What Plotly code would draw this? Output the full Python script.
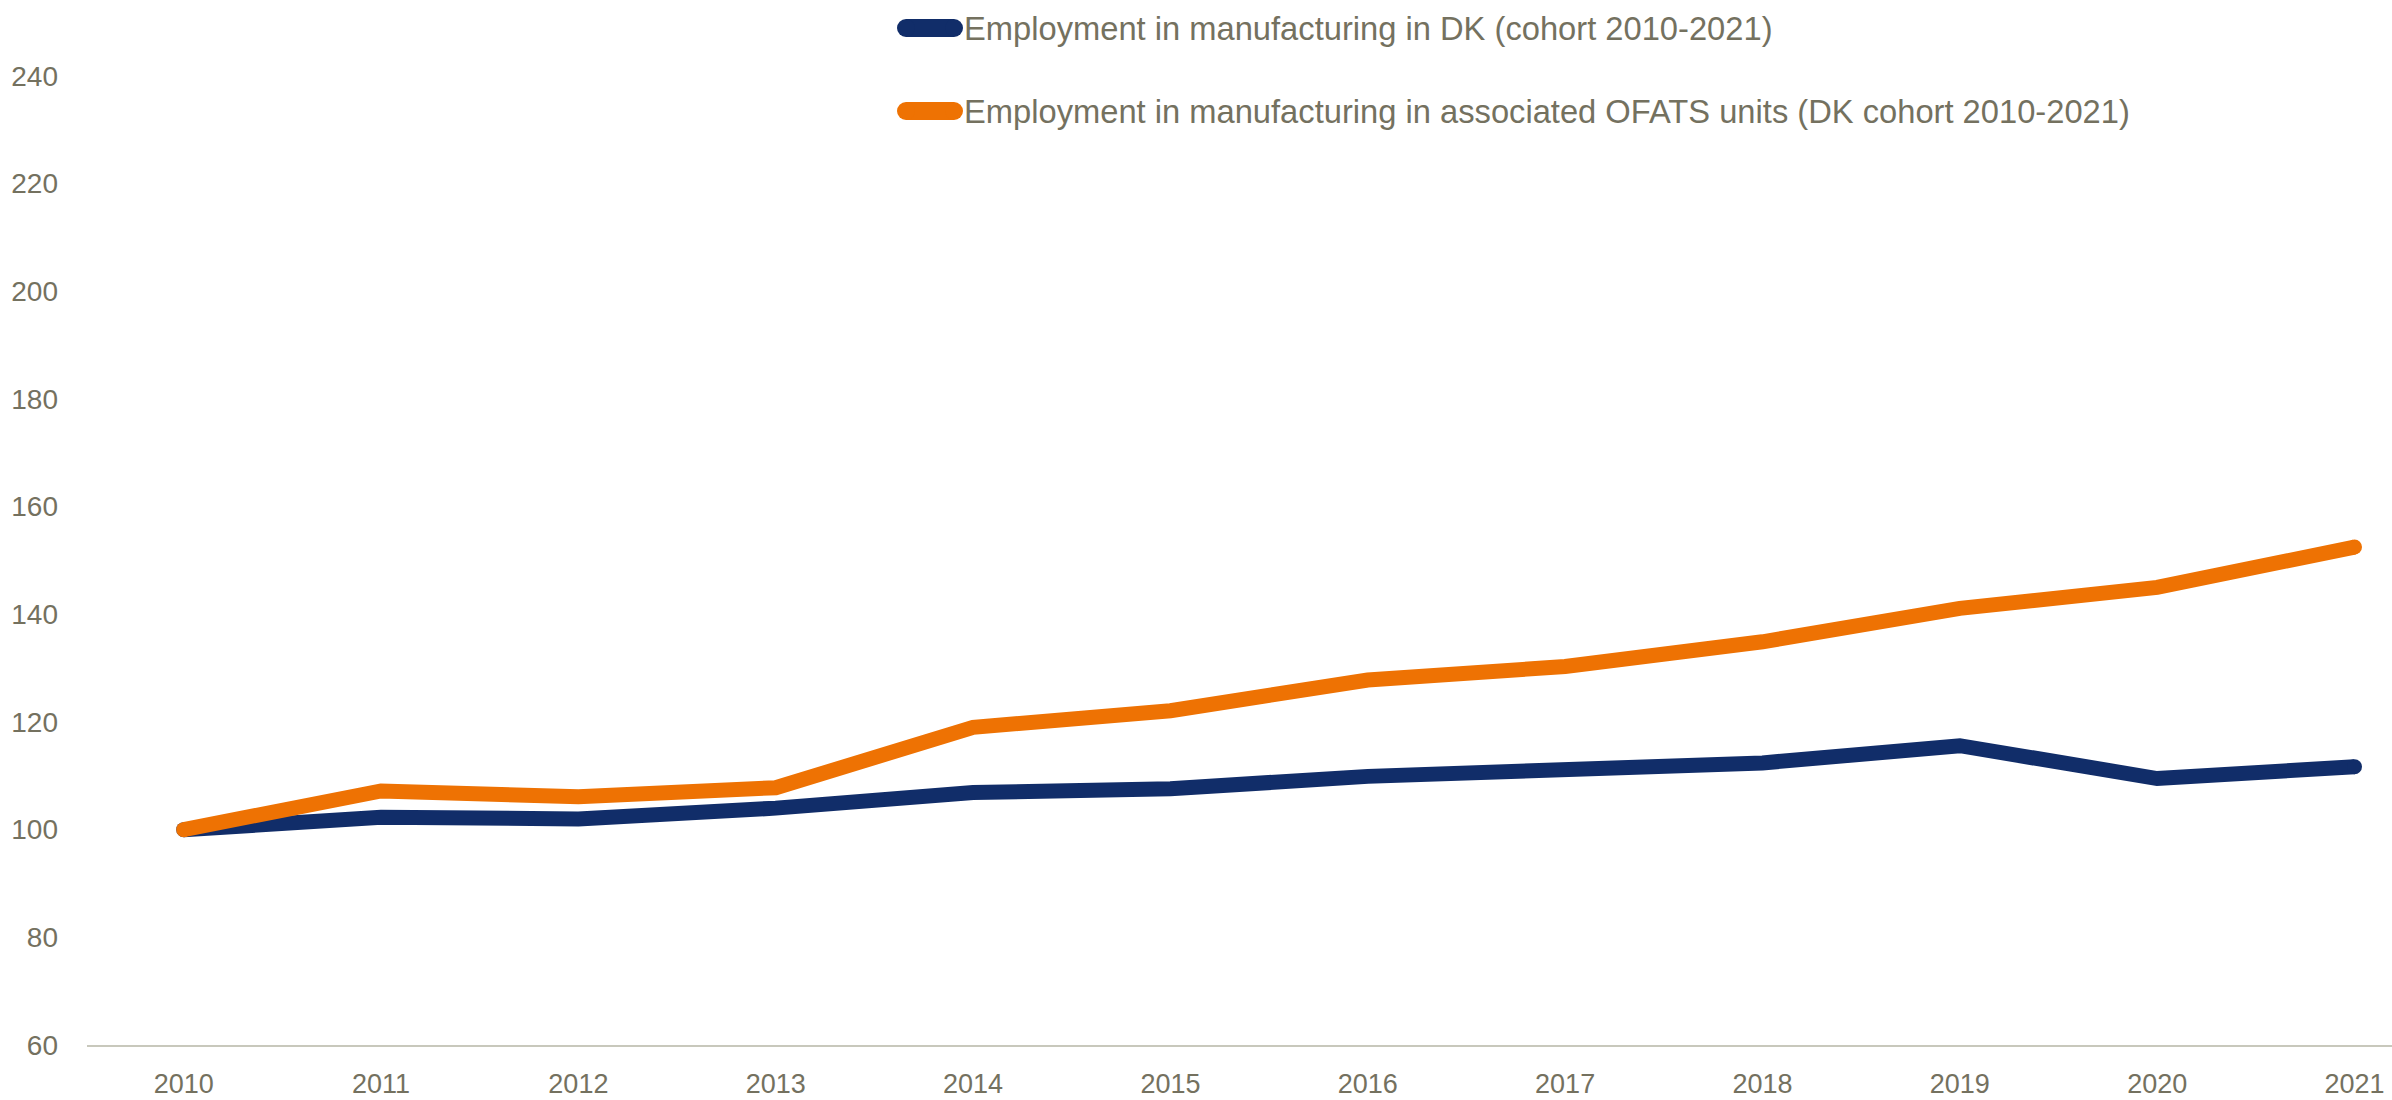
import plotly.graph_objects as go

years = [2010, 2011, 2012, 2013, 2014, 2015, 2016, 2017, 2018, 2019, 2020, 2021]
dk_mfg = [100.0, 102.3, 102.0, 104.0, 106.9, 107.6, 109.9, 111.2, 112.4, 115.6, 109.5, 111.7]
ofats_mfg = [100.0, 107.2, 106.1, 107.8, 119.0, 122.1, 127.8, 130.3, 134.9, 141.1, 145.0, 152.5]

name_dk = "Employment in manufacturing in DK (cohort 2010-2021)"
name_ofats = "Employment in manufacturing in associated OFATS units (DK cohort 2010-2021)"

BLUE = "#112d69"
ORANGE = "#ee7203"
TXT = "#74715f"
LW = 15

W, H = 2392, 1100
ML, MR, MT, MB = 87, 0, 76, 55
PW, PH = W - ML - MR, H - MT - MB

def px(xp):
    return (xp - ML) / PW

def py(yp):
    return (H - MB - yp) / PH

fig = go.Figure()
series = [(dk_mfg, name_dk, BLUE), (ofats_mfg, name_ofats, ORANGE)]
for vals, name, col in series:
    fig.add_trace(go.Scatter(x=years, y=vals, mode="lines", name=name,
                             line=dict(color=col, width=LW), showlegend=False))
    fig.add_trace(go.Scatter(x=[years[0], years[-1]], y=[vals[0], vals[-1]], mode="markers",
                             marker=dict(color=col, size=LW, line=dict(width=0)),
                             showlegend=False, hoverinfo="skip"))

# manual legend
shapes, annotations = [], []
leg_rows = [28, 111]
r = 9
for (vals, name, col), yc in zip(series, leg_rows):
    xa, xb = 897 + r, 963 - r
    shapes.append(dict(type="line", xref="paper", yref="paper", x0=px(xa), x1=px(xb),
                       y0=py(yc), y1=py(yc), line=dict(color=col, width=2 * r)))
    for xc in (xa, xb):
        shapes.append(dict(type="circle", xref="paper", yref="paper",
                           x0=px(xc - r), x1=px(xc + r), y0=py(yc + r), y1=py(yc - r),
                           fillcolor=col, line=dict(width=0)))
    annotations.append(dict(text=name, xref="paper", yref="paper", x=px(962), y=py(yc),
                            xanchor="left", yanchor="middle", showarrow=False,
                            font=dict(family="Liberation Sans, Arial, sans-serif", size=32.7, color=TXT)))

fig.update_layout(
    width=W, height=H,
    margin=dict(l=ML, r=MR, t=MT, b=MB),
    paper_bgcolor="white", plot_bgcolor="white",
    showlegend=False,
    shapes=shapes, annotations=annotations,
    xaxis=dict(range=[2009.51, 2021.19], tickmode="array", tickvals=years,
               ticktext=[str(y) for y in years], showgrid=False, zeroline=False,
               showline=True, linecolor="#c8c8bc", linewidth=2, ticks="",
               ticklabelstandoff=14,
               tickfont=dict(family="Liberation Sans, Arial, sans-serif", size=27, color=TXT)),
    yaxis=dict(range=[60, 240], tickvals=list(range(60, 241, 20)), showgrid=False,
               zeroline=False, showline=False, ticks="", ticklabelstandoff=28,
               tickfont=dict(family="Liberation Sans, Arial, sans-serif", size=28, color=TXT)),
)

fig.write_html("out.html")
